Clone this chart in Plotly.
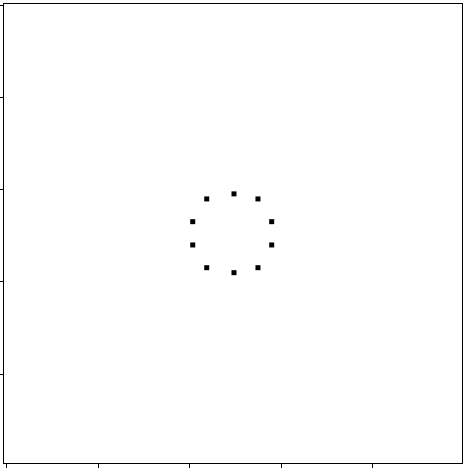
import plotly.graph_objects as go

# Data (arbitrary data units)
x_vals = [2.484, 2.746, 2.896, 2.896, 2.746, 2.484, 2.186, 2.033, 2.033, 2.186]
y_vals = [2.957, 2.902, 2.655, 2.402, 2.155, 2.101, 2.155, 2.402, 2.655, 2.902]
x_ticks = [0, 1, 2, 3, 4, 5]
y_ticks = [0, 1, 2, 3, 4, 5]

fig = go.Figure()
fig.add_trace(go.Scatter(
    x=x_vals, y=y_vals, mode="markers",
    marker=dict(symbol="square", size=5, color="black", line=dict(width=0)),
    showlegend=False,
))

fig.update_layout(
    width=465, height=468,
    margin=dict(l=4, r=3, t=4, b=5, autoexpand=False),
    paper_bgcolor="white", plot_bgcolor="white",
)
fig.update_xaxes(
    range=[-0.0295, 4.976], tickvals=x_ticks, showticklabels=False,
    ticks="outside", ticklen=6, tickwidth=1, tickcolor="black",
    showline=True, linecolor="black", linewidth=1, mirror=True,
    showgrid=False, zeroline=False, automargin=False,
)
fig.update_yaxes(
    range=[0.033, 5.02], tickvals=y_ticks, showticklabels=False,
    ticks="outside", ticklen=6, tickwidth=1, tickcolor="black",
    showline=True, linecolor="black", linewidth=1, mirror=True,
    showgrid=False, zeroline=False, automargin=False,
)

fig.write_html("out.html")
